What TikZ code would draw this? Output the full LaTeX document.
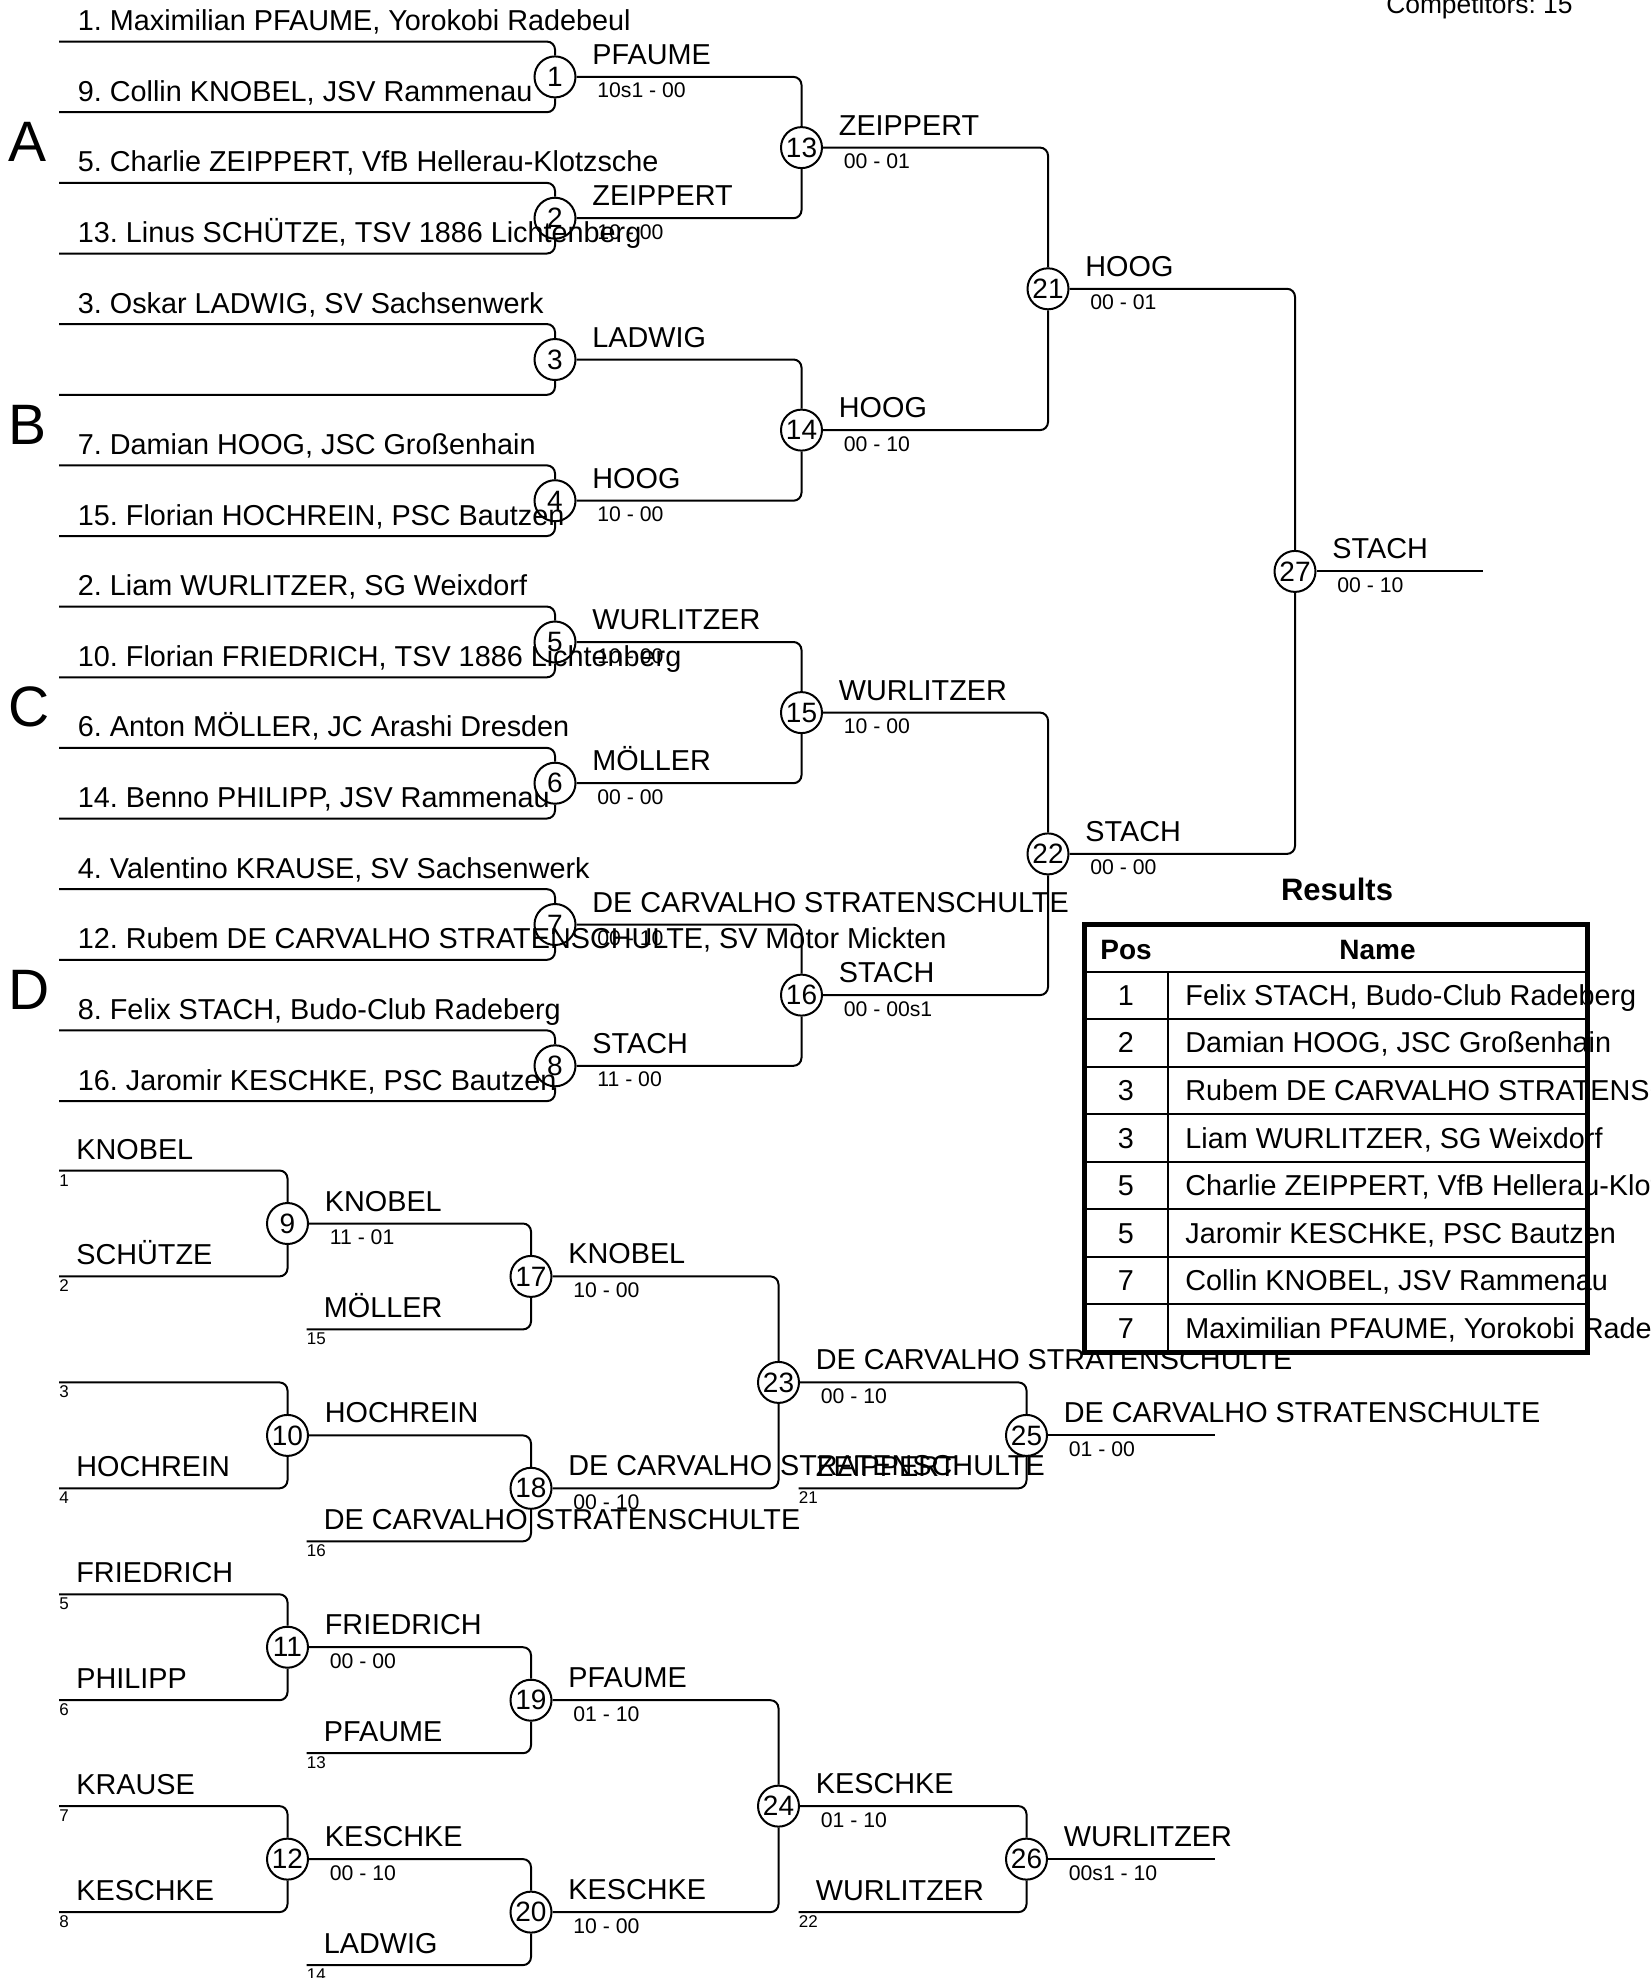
\documentclass[tikz,border=0pt]{standalone}
\usepackage{fontspec}
\setmainfont{Liberation Sans}
\frenchspacing
\tikzstyle{match} = [circle, draw=black, line width=1pt, minimum size=20.5pt, inner sep=0pt, font=\fontsize{14}{14}\selectfont]
\tikzstyle{wire} = [line width=1pt, rounded corners=4pt]
\tikzstyle{player} = [anchor=base west, inner sep=0pt, font=\fontsize{14.4}{14.4}\selectfont]
\tikzstyle{score} = [anchor=base west, inner sep=0pt, font=\fontsize{10.6}{10.6}\selectfont]
\tikzstyle{seed} = [anchor=base west, inner sep=0pt, font=\fontsize{8.5}{8.5}\selectfont]
\tikzstyle{pool} = [anchor=base west, inner sep=0pt, font=\fontsize{28.5}{28.5}\selectfont]
\tikzstyle{cell} = [anchor=base, inner sep=0pt, font=\fontsize{14.4}{14.4}\selectfont]
\tikzstyle{rowname} = [anchor=base west, inner sep=0pt, font=\fontsize{14.4}{14.4}\selectfont]
\tikzstyle{head} = [anchor=base, inner sep=0pt, font=\bfseries\fontsize{14}{14}\selectfont]

\begin{document}
\begin{tikzpicture}[x=0.5pt, y=-0.5pt]
        \useasboundingbox (0,0) rectangle (1651,1978);
        \node (count) [anchor=base east, inner sep=0pt, font=\fontsize{13.2}{13.2}\selectfont] at (1573,13.3) {Competitors: 15};

        % pools
        \node (pa) [pool] at (8,161.7) {A};
        \node (pb) [pool] at (8,444.2) {B};
        \node (pc) [pool] at (8,726.7) {C};
        \node (pd) [pool] at (8,1009.2) {D};

        % main bracket
        \coordinate (e0) at (59,41.6);
        \coordinate (e1) at (59,112.2);
        \coordinate (e2) at (59,182.9);
        \coordinate (e3) at (59,253.5);
        \coordinate (e4) at (59,324.1);
        \coordinate (e5) at (59,394.8);
        \coordinate (e6) at (59,465.4);
        \coordinate (e7) at (59,536.0);
        \coordinate (e8) at (59,606.6);
        \coordinate (e9) at (59,677.3);
        \coordinate (e10) at (59,747.9);
        \coordinate (e11) at (59,818.5);
        \coordinate (e12) at (59,889.2);
        \coordinate (e13) at (59,959.8);
        \coordinate (e14) at (59,1030.4);
        \coordinate (e15) at (59,1101.1);
        \coordinate (fin) at (1483,571.4);

        \node (m1) [match] at (555,76.9) {1};
        \node (m2) [match] at (555,218.2) {2};
        \node (m3) [match] at (555,359.5) {3};
        \node (m4) [match] at (555,500.7) {4};
        \node (m5) [match] at (555,642.0) {5};
        \node (m6) [match] at (555,783.2) {6};
        \node (m7) [match] at (555,924.5) {7};
        \node (m8) [match] at (555,1065.8) {8};
        \node (m13) [match] at (801.5,147.6) {13};
        \node (m14) [match] at (801.5,430.1) {14};
        \node (m15) [match] at (801.5,712.6) {15};
        \node (m16) [match] at (801.5,995.1) {16};
        \node (m21) [match] at (1048,288.8) {21};
        \node (m22) [match] at (1048,853.9) {22};
        \node (m27) [match] at (1295,571.4) {27};

        \draw [wire] (e0) -| (m1);
        \draw [wire] (e1) -| (m1);
        \draw [wire] (e2) -| (m2);
        \draw [wire] (e3) -| (m2);
        \draw [wire] (e4) -| (m3);
        \draw [wire] (e5) -| (m3);
        \draw [wire] (e6) -| (m4);
        \draw [wire] (e7) -| (m4);
        \draw [wire] (e8) -| (m5);
        \draw [wire] (e9) -| (m5);
        \draw [wire] (e10) -| (m6);
        \draw [wire] (e11) -| (m6);
        \draw [wire] (e12) -| (m7);
        \draw [wire] (e13) -| (m7);
        \draw [wire] (e14) -| (m8);
        \draw [wire] (e15) -| (m8);
        \draw [wire] (m1) -| (m13);
        \draw [wire] (m2) -| (m13);
        \draw [wire] (m3) -| (m14);
        \draw [wire] (m4) -| (m14);
        \draw [wire] (m5) -| (m15);
        \draw [wire] (m6) -| (m15);
        \draw [wire] (m7) -| (m16);
        \draw [wire] (m8) -| (m16);
        \draw [wire] (m13) -| (m21);
        \draw [wire] (m14) -| (m21);
        \draw [wire] (m15) -| (m22);
        \draw [wire] (m16) -| (m22);
        \draw [wire] (m21) -| (m27);
        \draw [wire] (m22) -| (m27);
        \draw [wire] (m27) -- (fin);

        \node (n0) [player] at (77.5,30.6) {1. Maximilian PFAUME, Yorokobi Radebeul};
        \node (n1) [player] at (77.5,101.2) {9. Collin KNOBEL, JSV Rammenau};
        \node (n2) [player] at (77.5,171.9) {5. Charlie ZEIPPERT, VfB Hellerau-Klotzsche};
        \node (n3) [player] at (77.5,242.5) {13. Linus SCHÜTZE, TSV 1886 Lichtenberg};
        \node (n4) [player] at (77.5,313.1) {3. Oskar LADWIG, SV Sachsenwerk};
        \node (n6) [player] at (77.5,454.4) {7. Damian HOOG, JSC Großenhain};
        \node (n7) [player] at (77.5,525.0) {15. Florian HOCHREIN, PSC Bautzen};
        \node (n8) [player] at (77.5,595.6) {2. Liam WURLITZER, SG Weixdorf};
        \node (n9) [player] at (77.5,666.3) {10. Florian FRIEDRICH, TSV 1886 Lichtenberg};
        \node (n10) [player] at (77.5,736.9) {6. Anton MÖLLER, JC Arashi Dresden};
        \node (n11) [player] at (77.5,807.5) {14. Benno PHILIPP, JSV Rammenau};
        \node (n12) [player] at (77.5,878.2) {4. Valentino KRAUSE, SV Sachsenwerk};
        \node (n13) [player] at (77.5,948.8) {12. Rubem DE CARVALHO STRATENSCHULTE, SV Motor Mickten};
        \node (n14) [player] at (77.5,1019.4) {8. Felix STACH, Budo-Club Radeberg};
        \node (n15) [player] at (77.5,1090.1) {16. Jaromir KESCHKE, PSC Bautzen};

        \node (w1) [player] at (592,64.4) {PFAUME};
        \node (s1) [score] at (597,97.9) {10s1 - 00};
        \node (w2) [player] at (592,205.7) {ZEIPPERT};
        \node (s2) [score] at (597,239.2) {10 - 00};
        \node (w3) [player] at (592,347.0) {LADWIG};
        \node (w4) [player] at (592,488.2) {HOOG};
        \node (s4) [score] at (597,521.7) {10 - 00};
        \node (w5) [player] at (592,629.5) {WURLITZER};
        \node (s5) [score] at (597,663.0) {10 - 00};
        \node (w6) [player] at (592,770.7) {MÖLLER};
        \node (s6) [score] at (597,804.2) {00 - 00};
        \node (w7) [player] at (592,912.0) {DE CARVALHO STRATENSCHULTE};
        \node (s7) [score] at (597,945.5) {00 - 10};
        \node (w8) [player] at (592,1053.3) {STACH};
        \node (s8) [score] at (597,1086.8) {11 - 00};
        \node (w13) [player] at (838.5,135.1) {ZEIPPERT};
        \node (s13) [score] at (843.5,168.6) {00 - 01};
        \node (w14) [player] at (838.5,417.6) {HOOG};
        \node (s14) [score] at (843.5,451.1) {00 - 10};
        \node (w15) [player] at (838.5,700.1) {WURLITZER};
        \node (s15) [score] at (843.5,733.6) {10 - 00};
        \node (w16) [player] at (838.5,982.6) {STACH};
        \node (s16) [score] at (843.5,1016.1) {00 - 00s1};
        \node (w21) [player] at (1085,276.3) {HOOG};
        \node (s21) [score] at (1090,309.8) {00 - 01};
        \node (w22) [player] at (1085,841.4) {STACH};
        \node (s22) [score] at (1090,874.9) {00 - 00};
        \node (w27) [player] at (1332,558.4) {STACH};
        \node (s27) [score] at (1337,592.4) {00 - 10};

        % repechage
        \coordinate (r0) at (59,1170.5);
        \coordinate (r2) at (59,1276.4);
        \coordinate (r3) at (306.5,1329.4);
        \coordinate (r4) at (59,1382.4);
        \coordinate (r6) at (59,1488.3);
        \coordinate (r7) at (306.5,1541.3);
        \coordinate (q6) at (798.5,1488.3);
        \coordinate (r8) at (59,1594.3);
        \coordinate (r10) at (59,1700.2);
        \coordinate (r11) at (306.5,1753.2);
        \coordinate (r12) at (59,1806.1);
        \coordinate (r14) at (59,1912.1);
        \coordinate (r15) at (306.5,1965.1);
        \coordinate (q14) at (798.5,1912.1);
        \coordinate (fin25) at (1214.5,1435.4);
        \coordinate (fin26) at (1214.5,1859.1);

        \node (m9) [match] at (287.5,1223.5) {9};
        \node (m10) [match] at (287.5,1435.4) {10};
        \node (m11) [match] at (287.5,1647.2) {11};
        \node (m12) [match] at (287.5,1859.1) {12};
        \node (m17) [match] at (531,1276.4) {17};
        \node (m18) [match] at (531,1488.3) {18};
        \node (m19) [match] at (531,1700.2) {19};
        \node (m20) [match] at (531,1912.1) {20};
        \node (m23) [match] at (778.5,1382.4) {23};
        \node (m24) [match] at (778.5,1806.1) {24};
        \node (m25) [match] at (1026.5,1435.4) {25};
        \node (m26) [match] at (1026.5,1859.1) {26};

        \draw [wire] (r0) -| (m9);
        \draw [wire] (r2) -| (m9);
        \draw [wire] (m9) -| (m17);
        \draw [wire] (r3) -| (m17);
        \draw [wire] (r4) -| (m10);
        \draw [wire] (r6) -| (m10);
        \draw [wire] (m10) -| (m18);
        \draw [wire] (r7) -| (m18);
        \draw [wire] (m17) -| (m23);
        \draw [wire] (m18) -| (m23);
        \draw [wire] (m23) -| (m25);
        \draw [wire] (q6) -| (m25);
        \draw [wire] (m25) -- (fin25);
        \draw [wire] (r8) -| (m11);
        \draw [wire] (r10) -| (m11);
        \draw [wire] (m11) -| (m19);
        \draw [wire] (r11) -| (m19);
        \draw [wire] (r12) -| (m12);
        \draw [wire] (r14) -| (m12);
        \draw [wire] (m12) -| (m20);
        \draw [wire] (r15) -| (m20);
        \draw [wire] (m19) -| (m24);
        \draw [wire] (m20) -| (m24);
        \draw [wire] (m24) -| (m26);
        \draw [wire] (q14) -| (m26);
        \draw [wire] (m26) -- (fin26);

        \node (t0) [player] at (76,1159) {KNOBEL};
        \node (d0) [seed] at (59,1186) {1};
        \node (t2) [player] at (76,1264.9) {SCHÜTZE};
        \node (d2) [seed] at (59,1291.9) {2};
        \node (t3) [player] at (323.5,1317.9) {MÖLLER};
        \node (d3) [seed] at (306.5,1344.9) {15};
        \node (d4) [seed] at (59,1397.9) {3};
        \node (t6) [player] at (76,1476.8) {HOCHREIN};
        \node (d6) [seed] at (59,1503.8) {4};
        \node (t7) [player] at (323.5,1529.8) {DE CARVALHO STRATENSCHULTE};
        \node (d7) [seed] at (306.5,1556.8) {16};
        \node (u6) [player] at (815.5,1476.8) {ZEIPPERT};
        \node (c6) [seed] at (798.5,1503.8) {21};
        \node (t8) [player] at (76,1582.8) {FRIEDRICH};
        \node (d8) [seed] at (59,1609.8) {5};
        \node (t10) [player] at (76,1688.7) {PHILIPP};
        \node (d10) [seed] at (59,1715.7) {6};
        \node (t11) [player] at (323.5,1741.7) {PFAUME};
        \node (d11) [seed] at (306.5,1768.7) {13};
        \node (t12) [player] at (76,1794.6) {KRAUSE};
        \node (d12) [seed] at (59,1821.6) {7};
        \node (t14) [player] at (76,1900.6) {KESCHKE};
        \node (d14) [seed] at (59,1927.6) {8};
        \node (t15) [player] at (323.5,1953.6) {LADWIG};
        \node (d15) [seed] at (306.5,1980.6) {14};
        \node (u14) [player] at (815.5,1900.6) {WURLITZER};
        \node (c14) [seed] at (798.5,1927.6) {22};

        \node (w9) [player] at (324.5,1211) {KNOBEL};
        \node (s9) [score] at (329.5,1244.5) {11 - 01};
        \node (w17) [player] at (568,1263.9) {KNOBEL};
        \node (s17) [score] at (573,1297.4) {10 - 00};
        \node (w10) [player] at (324.5,1422.9) {HOCHREIN};
        \node (w18) [player] at (568,1475.8) {DE CARVALHO STRATENSCHULTE};
        \node (s18) [score] at (573,1509.3) {00 - 10};
        \node (w23) [player] at (815.5,1369.9) {DE CARVALHO STRATENSCHULTE};
        \node (s23) [score] at (820.5,1403.4) {00 - 10};
        \node (w25) [player] at (1063.5,1422.9) {DE CARVALHO STRATENSCHULTE};
        \node (s25) [score] at (1068.5,1456.4) {01 - 00};
        \node (w11) [player] at (324.5,1634.7) {FRIEDRICH};
        \node (s11) [score] at (329.5,1668.2) {00 - 00};
        \node (w19) [player] at (568,1687.7) {PFAUME};
        \node (s19) [score] at (573,1721.2) {01 - 10};
        \node (w12) [player] at (324.5,1846.6) {KESCHKE};
        \node (s12) [score] at (329.5,1880.1) {00 - 10};
        \node (w20) [player] at (568,1899.6) {KESCHKE};
        \node (s20) [score] at (573,1933.1) {10 - 00};
        \node (w24) [player] at (815.5,1793.6) {KESCHKE};
        \node (s24) [score] at (820.5,1827.1) {01 - 10};
        \node (w26) [player] at (1063.5,1846.6) {WURLITZER};
        \node (s26) [score] at (1068.5,1880.1) {00s1 - 10};

        % results
        \node (res) [anchor=base, inner sep=0pt, font=\bfseries\fontsize{15.5}{15.5}\selectfont] at (1337,900) {Results};
        \fill [white] (1084,924) rectangle (1587.5,1352);
        \node (hpos) [head] at (1126,959.3) {Pos};
        \node (hname) [head] at (1377.5,959.3) {Name};
        \node (p1) [cell] at (1126,1005.3) {1};
        \node (p2) [cell] at (1126,1052.9) {2};
        \node (p3) [cell] at (1126,1100.4) {3};
        \node (p4) [cell] at (1126,1148.0) {3};
        \node (p5) [cell] at (1126,1195.5) {5};
        \node (p6) [cell] at (1126,1243.1) {5};
        \node (p7) [cell] at (1126,1290.6) {7};
        \node (p8) [cell] at (1126,1338.2) {7};
        \node (f1) [rowname] at (1185,1005.3) {Felix STACH, Budo-Club Radeberg};
        \node (f2) [rowname] at (1185,1052.9) {Damian HOOG, JSC Großenhain};
        \node (f3) [rowname] at (1185,1100.4) {Rubem DE CARVALHO STRATENSCHULTE, SV Motor Mickten};
        \node (f4) [rowname] at (1185,1148.0) {Liam WURLITZER, SG Weixdorf};
        \node (f5) [rowname] at (1185,1195.5) {Charlie ZEIPPERT, VfB Hellerau-Klotzsche};
        \node (f6) [rowname] at (1185,1243.1) {Jaromir KESCHKE, PSC Bautzen};
        \node (f7) [rowname] at (1185,1290.6) {Collin KNOBEL, JSV Rammenau};
        \node (f8) [rowname] at (1185,1338.2) {Maximilian PFAUME, Yorokobi Radebeul};
        \draw [line width=1pt] (1084,971.6) -- (1587.5,971.6);
        \draw [line width=1pt] (1084,1019.1) -- (1587.5,1019.1);
        \draw [line width=1pt] (1084,1066.7) -- (1587.5,1066.7);
        \draw [line width=1pt] (1084,1114.2) -- (1587.5,1114.2);
        \draw [line width=1pt] (1084,1161.8) -- (1587.5,1161.8);
        \draw [line width=1pt] (1084,1209.3) -- (1587.5,1209.3);
        \draw [line width=1pt] (1084,1256.9) -- (1587.5,1256.9);
        \draw [line width=1pt] (1084,1304.4) -- (1587.5,1304.4);
        \draw [line width=1pt] (1167.5,971.6) -- (1167.5,1352);
        \draw [line width=2.5pt] (1084,924) rectangle (1587.5,1352);
    \end{tikzpicture}
\end{document}
